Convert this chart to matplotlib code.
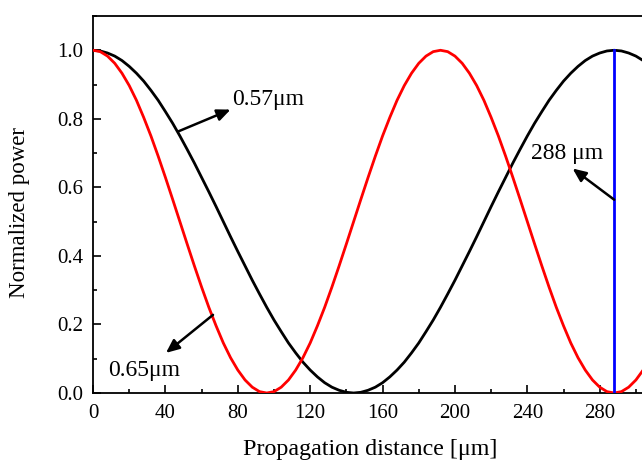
import matplotlib
matplotlib.use("Agg")
import matplotlib.pyplot as plt
from matplotlib.ticker import MultipleLocator

plt.rcParams['font.family'] = ['Liberation Serif', 'DejaVu Serif']
plt.rcParams['mathtext.fontset'] = 'stix'

# Propagation distance samples [um]
distance = list(range(0, 324, 4))

# Normalized power, 0.57 um wavelength
power_057 = [1.000, 0.998, 0.992, 0.983, 0.970, 0.953, 0.933, 0.910, 0.883, 0.854,
             0.821, 0.787, 0.750, 0.711, 0.671, 0.629, 0.587, 0.544, 0.500, 0.456,
             0.413, 0.371, 0.329, 0.289, 0.250, 0.213, 0.179, 0.146, 0.117, 0.090,
             0.067, 0.047, 0.030, 0.017, 0.008, 0.002, 0.000,
             0.002, 0.008, 0.017, 0.030, 0.047, 0.067, 0.090, 0.117, 0.146, 0.179,
             0.213, 0.250, 0.289, 0.329, 0.371, 0.413, 0.456, 0.500, 0.544, 0.587,
             0.629, 0.671, 0.711, 0.750, 0.787, 0.821, 0.854, 0.883, 0.910, 0.933,
             0.953, 0.970, 0.983, 0.992, 0.998, 1.000,
             0.998, 0.992, 0.983, 0.970, 0.953, 0.933, 0.910, 0.883]

# Normalized power, 0.65 um wavelength
power_065 = [1.000, 0.996, 0.983, 0.962, 0.933, 0.897, 0.854, 0.804, 0.750, 0.691,
             0.629, 0.565, 0.500, 0.435, 0.371, 0.309, 0.250, 0.196, 0.146, 0.103,
             0.067, 0.038, 0.017, 0.004, 0.000,
             0.004, 0.017, 0.038, 0.067, 0.103, 0.146, 0.196, 0.250, 0.309, 0.371,
             0.435, 0.500, 0.565, 0.629, 0.691, 0.750, 0.804, 0.854, 0.897, 0.933,
             0.962, 0.983, 0.996, 1.000,
             0.996, 0.983, 0.962, 0.933, 0.897, 0.854, 0.804, 0.750, 0.691, 0.629,
             0.565, 0.500, 0.435, 0.371, 0.309, 0.250, 0.196, 0.146, 0.103, 0.067,
             0.038, 0.017, 0.004, 0.000,
             0.004, 0.017, 0.038, 0.067, 0.103, 0.146, 0.196, 0.250]

coupling_length = 288  # um

x_ticks = [0, 40, 80, 120, 160, 200, 240, 280]
y_ticks = [0.0, 0.2, 0.4, 0.6, 0.8, 1.0]
y_tick_labels = ['0.0', '0.2', '0.4', '0.6', '0.8', '1.0']

fig = plt.figure(figsize=(6.42, 4.61), dpi=100)
ax = fig.add_axes([0.1449, 0.1475, 0.902, 0.8178])

ax.plot(distance, power_057, color='black', lw=2.0, zorder=3)
ax.plot(distance, power_065, color='#ff0000', lw=2.0, zorder=4)
ax.plot([coupling_length, coupling_length], [0, 1.0], color='#0000ff', lw=2.0, zorder=5)

ax.set_xlim(0, 320)
ax.set_ylim(0, 1.1)
ax.set_xticks(x_ticks)
ax.xaxis.set_minor_locator(MultipleLocator(20))
ax.set_yticks(y_ticks)
ax.set_yticklabels(y_tick_labels)
ax.yaxis.set_minor_locator(MultipleLocator(0.1))

ax.tick_params(which='both', direction='in', top=False, right=False,
               labelsize=15, width=1.2)
ax.tick_params(which='major', length=6)
ax.tick_params(which='minor', length=3)
ax.tick_params(axis='x', pad=8)
ax.tick_params(axis='y', pad=7)
for s in ax.spines.values():
    s.set_linewidth(1.3)

ax.set_xlabel('Propagation distance [μm]', fontsize=17.3)
ax.set_ylabel('Normalized power', fontsize=16.5)
ax.xaxis.set_label_coords(0.478, -0.121)
ax.yaxis.set_label_coords(-0.108, 0.48)

arrow = dict(arrowstyle='-|>,head_length=0.8,head_width=0.35', color='black', lw=1.8,
             shrinkA=0, shrinkB=0)
ax.annotate('', xy=(76, 0.827), xytext=(47, 0.763), arrowprops=arrow, zorder=6)
ax.text(77, 0.857, '0.57μm', fontsize=17, va='center', ha='left')

ax.annotate('', xy=(40.3, 0.117), xytext=(66.3, 0.228), arrowprops=arrow, zorder=6)
ax.text(8.3, 0.067, '0.65μm', fontsize=17, va='center', ha='left')

ax.annotate('', xy=(265, 0.655), xytext=(coupling_length, 0.564), arrowprops=arrow, zorder=6)
ax.text(262, 0.70, '288 μm', fontsize=17, va='center', ha='center')

fig.savefig('out.png', dpi=100)
